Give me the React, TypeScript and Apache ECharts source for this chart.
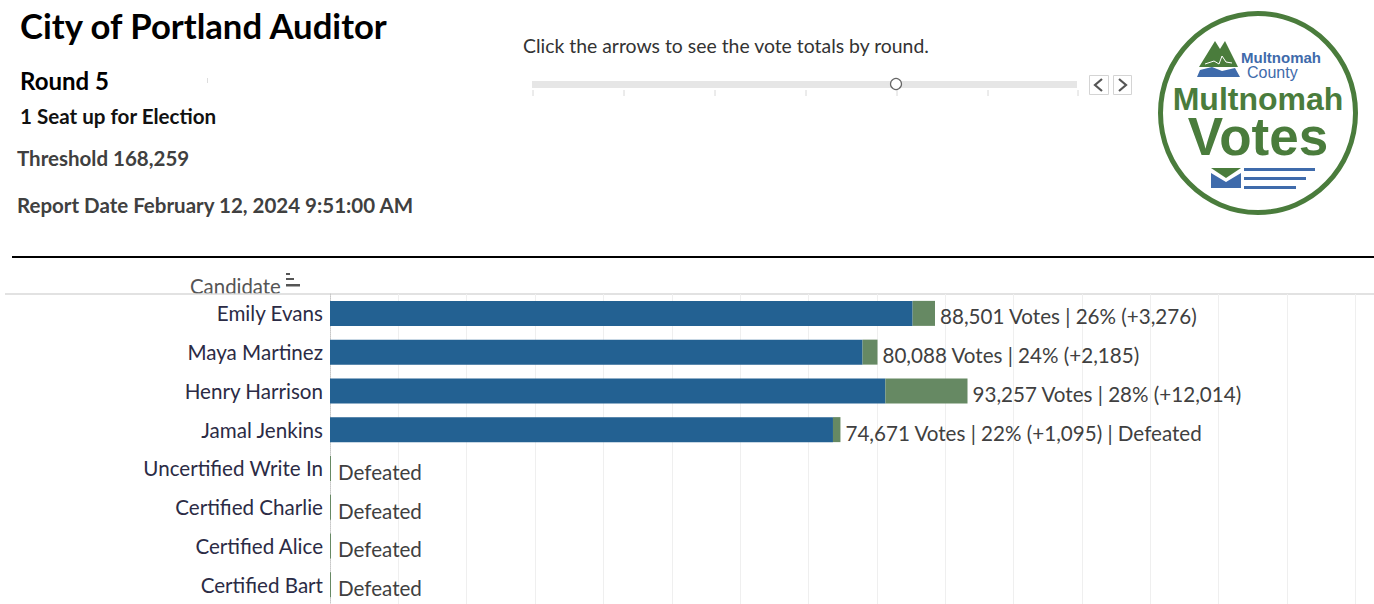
import React, { useEffect, useRef } from "react";
import * as echarts from "echarts";

const candidates = ["Emily Evans", "Maya Martinez", "Henry Harrison", "Jamal Jenkins", "Uncertified Write In", "Certified Charlie", "Certified Alice", "Certified Bart"];
const priorVotes = [85225, 77903, 81243, 73576, 0, 0, 0, 0];
const addedVotes = [3276, 2185, 12014, 1095, 0, 0, 0, 0];
const barLabels = [
  "88,501 Votes | 26% (+3,276)",
  "80,088 Votes | 24% (+2,185)",
  "93,257 Votes | 28% (+12,014)",
  "74,671 Votes | 22% (+1,095) | Defeated",
  "Defeated",
  "Defeated",
  "Defeated",
  "Defeated",
];
const FONT = "Lato";
const sliderTicks = [533, 624, 715, 806, 897, 988, 1078];

const t = (text: string, x: number, y: number, fontSize: number, fontWeight: any, fill: string) => ({
  type: "text", x, y,
  style: { text, fontSize, fontWeight, fill, fontFamily: FONT, textVerticalAlign: "middle", textAlign: "left" },
});
const GREEN = "#4a7c3c";
const BLUE = "#3f6bab";

const graphics: any[] = [
  t("City of Portland Auditor", 20, 25.5, 34.7, 700, "#000"),
  t("Round 5", 20, 80, 24, 700, "#000"),
  t("1 Seat up for Election", 20, 116, 20.6, 700, "#111"),
  t("Threshold 168,259", 17, 158, 20.5, 700, "#404040"),
  t("Report Date February 12, 2024 9:51:00 AM", 17, 205, 20.5, 700, "#404040"),
  t("Click the arrows to see the vote totals by round.", 523, 45.5, 19.4, 400, "#333"),
  t("Candidate", 190, 286, 20.4, 400, "#555"),
  { type: "rect", shape: { x: 286, y: 273, width: 4, height: 2 }, style: { fill: "#555" } },
  { type: "rect", shape: { x: 286, y: 278, width: 8, height: 2 }, style: { fill: "#555" } },
  { type: "rect", shape: { x: 286, y: 284, width: 14, height: 2.5 }, style: { fill: "#555" } },
  { type: "rect", shape: { x: 207, y: 78, width: 1, height: 5 }, style: { fill: "#ddd" } },
  { type: "line", shape: { x1: 12, y1: 257, x2: 1374, y2: 257 }, style: { stroke: "#000", lineWidth: 2 } },
  { type: "line", shape: { x1: 5, y1: 294, x2: 1374, y2: 294 }, style: { stroke: "#d9d9d9", lineWidth: 1.5 } },
  // slider
  { type: "rect", shape: { x: 532, y: 81, width: 545, height: 7 }, style: { fill: "#e6e6e6" } },
  ...sliderTicks.map((x) => ({ type: "line", shape: { x1: x, y1: 90, x2: x, y2: 96 }, style: { stroke: "#d8d8d8", lineWidth: 1 } })),
  { type: "circle", shape: { cx: 896, cy: 84, r: 5.5 }, style: { fill: "#fff", stroke: "#666", lineWidth: 1.2 } },
  { type: "rect", shape: { x: 1089.5, y: 75.5, width: 19, height: 19 }, style: { fill: "#fff", stroke: "#d4d4d4", lineWidth: 1 } },
  { type: "rect", shape: { x: 1113.5, y: 75.5, width: 18, height: 19 }, style: { fill: "#fff", stroke: "#d4d4d4", lineWidth: 1 } },
  { type: "polyline", shape: { points: [[1102, 79], [1095, 85], [1102, 91]] }, style: { fill: "none", stroke: "#555", lineWidth: 2.2 } },
  { type: "polyline", shape: { points: [[1119, 79], [1126, 85], [1119, 91]] }, style: { fill: "none", stroke: "#555", lineWidth: 2.2 } },
  // logo
  { type: "ellipse", shape: { cx: 1258, cy: 113, rx: 97.5, ry: 99.5 }, style: { fill: "#fff", stroke: GREEN, lineWidth: 5 } },
  { type: "polygon", shape: { points: [[1199, 67], [1215, 41], [1220, 49], [1225, 41], [1238, 67]] }, style: { fill: GREEN } },
  { type: "polyline", shape: { points: [[1205, 64], [1214, 61], [1219, 64], [1222, 56], [1226, 62], [1232, 63]] }, style: { fill: "none", stroke: "#fff", lineWidth: 1 } },
  { type: "polygon", shape: { points: [[1197, 77], [1200, 70], [1212, 67], [1222, 71], [1235, 68], [1240, 77]] }, style: { fill: BLUE } },
  { type: "text", x: 1241, y: 57, style: { text: "Multnomah", fontSize: 15, fontWeight: 600, lineHeight: 14, fill: BLUE, fontFamily: "Liberation Sans", textVerticalAlign: "middle" } },
  { type: "text", x: 1247, y: 72, style: { text: "County", fontSize: 16, lineHeight: 14, fill: BLUE, fontFamily: "Liberation Sans", textVerticalAlign: "middle" } },
  { type: "text", x: 1258, y: 99, style: { text: "Multnomah", fontSize: 32, fontWeight: 700, lineHeight: 26, fill: GREEN, fontFamily: "Liberation Sans", textAlign: "center", textVerticalAlign: "middle" } },
  { type: "text", x: 1258, y: 136, style: { text: "Votes", fontSize: 53, fontWeight: 700, lineHeight: 40, fill: GREEN, fontFamily: "Liberation Sans", textAlign: "center", textVerticalAlign: "middle" } },
  { type: "polygon", shape: { points: [[1211, 173], [1226, 182], [1241, 173], [1241, 188], [1211, 188]] }, style: { fill: BLUE } },
  { type: "polygon", shape: { points: [[1211, 168], [1241, 168], [1226, 178]] }, style: { fill: GREEN } },
  { type: "rect", shape: { x: 1244, y: 168, width: 71, height: 3 }, style: { fill: BLUE } },
  { type: "rect", shape: { x: 1244, y: 177, width: 62, height: 3 }, style: { fill: BLUE } },
  { type: "rect", shape: { x: 1244, y: 186, width: 52, height: 3 }, style: { fill: BLUE } },
];

export default function App() {
  const ref = useRef<HTMLDivElement>(null);
  useEffect(() => {
    const chart = echarts.init(ref.current!, null, { renderer: "svg" });
    chart.setOption({
      animation: false,
      backgroundColor: "#fff",
      textStyle: { fontFamily: FONT },
      grid: { left: 330, top: 294, width: 1044, height: 312, containLabel: false },
      xAxis: {
        type: "value", min: 0, max: 152720, interval: 10000,
        axisLabel: { show: false }, axisTick: { show: false }, axisLine: { show: false },
        splitLine: { show: true, lineStyle: { color: "#efefef", width: 1 } },
      },
      yAxis: {
        type: "category", inverse: true, data: candidates,
        axisTick: { show: false },
        axisLine: { show: true, lineStyle: { color: "#c8c8c8", type: "dotted", width: 1 } },
        axisLabel: { fontSize: 20.6, color: "#2b2b45", fontFamily: FONT, margin: 7, align: "right" },
      },
      series: [
        { type: "bar", stack: "v", name: "Prior", data: priorVotes, barWidth: 25, itemStyle: { color: "#236192" } },
        {
          type: "bar", stack: "v", name: "Added",
          data: addedVotes.map((value) => ({
            value,
            label: { offset: value === 0 ? [2, 3.5] : [0, 3] },
          })),
          barWidth: 25, barMinHeight: 1,
          itemStyle: { color: "#668963" },
          label: {
            show: true, position: "right", distance: 5,
            fontSize: 20.6, color: "#404040", fontFamily: FONT,
            formatter: (p: any) => barLabels[p.dataIndex],
          },
        },
      ],
      graphic: graphics,
    });
    return () => chart.dispose();
  }, []);
  return <div ref={ref} style={{ position: "fixed", left: 0, top: 0, width: 1374, height: 604 }} />;
}
